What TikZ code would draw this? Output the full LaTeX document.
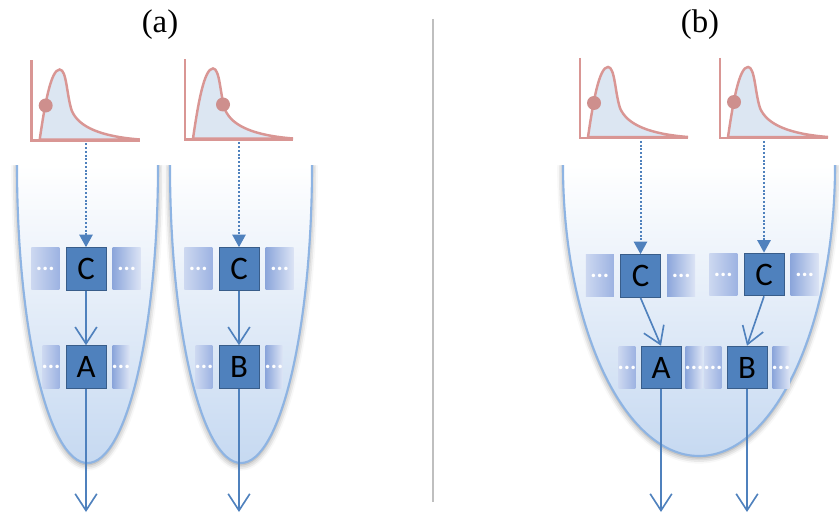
\documentclass[tikz,border=0pt]{standalone}
\usepackage{fontspec}
\setmainfont{Liberation Serif}
\newfontfamily\boxfont{Carlito}
\usetikzlibrary{positioning,arrows.meta,shadows.blur}
\definecolor{boxblue}{HTML}{4F81BD}
\definecolor{boxedge}{HTML}{385D8A}
\definecolor{bowledge}{HTML}{8EB4E3}
\definecolor{bowlbottom}{HTML}{C6D9F1}
\definecolor{curvered}{HTML}{D99694}
\definecolor{curvefill}{HTML}{DCE6F2}
\definecolor{stripdark}{HTML}{8CA6DB}
\definecolor{stripmid}{HTML}{9DB3E2}
\definecolor{striplight}{HTML}{DCE4F5}
\definecolor{divider}{HTML}{BFBFBF}
\newcommand{\ellip}{\makebox[0pt]{\boxfont\fontsize{20}{20}\bfseries\selectfont ...}}
% density plot: name, origin x, origin y, dot x, dot y
\newcommand{\density}[5]{%
  \begin{scope}[shift={(#2,#3)}]
    \filldraw[fill=curvefill,draw=curvered,line width=2.1pt]
      (8,-1) .. controls (13,-35) and (19,-71) .. (28,-71)
      .. controls (35,-71) and (35,-45) .. (40,-30)
      .. controls (47,-13) and (70,-4) .. (108,-1) -- cycle;
    \draw[curvered,line width=2.1pt] (0,-80) -- (0,0) -- (108,0);
    \fill[curvered!95!black] (#4,#5) circle (0.21cm);
    \coordinate (#1) at (0,3);
  \end{scope}}
% bowl: centre x, top y, x radius, depth
\newcommand{\bowl}[4]{%
  \path[blur shadow={shadow xshift=0pt,shadow yshift=-1.5pt,shadow blur radius=5pt,shadow opacity=45},
        top color=white,bottom color=bowlbottom]
    (#1-#3,#2) .. controls (#1-#3,#2+0.5523*#4) and (#1-0.5523*#3,#2+#4) .. (#1,#2+#4)
    .. controls (#1+0.5523*#3,#2+#4) and (#1+#3,#2+0.5523*#4) .. (#1+#3,#2) -- cycle;
  \draw[bowledge,line width=1.8pt]
    (#1-#3,#2) .. controls (#1-#3,#2+0.5523*#4) and (#1-0.5523*#3,#2+#4) .. (#1,#2+#4)
    .. controls (#1+0.5523*#3,#2+#4) and (#1+#3,#2+0.5523*#4) .. (#1+#3,#2);}

\begin{document}
\begin{tikzpicture}[
    x=0.03cm,y=-0.03cm,
    node distance=0.18cm,
    block/.style={rectangle,draw=boxedge,line width=0.8pt,fill=boxblue,
      minimum width=1.2cm,minimum height=1.28cm,inner sep=0pt,
      font=\boxfont\fontsize{28}{28}\selectfont},
    lstrip/.style={rectangle,left color=striplight!75!stripmid,right color=stripmid,
      minimum height=1.26cm,inner sep=0pt,text=white},
    rstrip/.style={rectangle,left color=stripdark,right color=striplight,
      minimum height=1.26cm,inner sep=0pt,text=white},
    wide/.style={minimum width=0.84cm},
    narrow/.style={minimum width=0.5cm},
    panel/.style={font=\fontsize{28}{28}\selectfont},
    flow/.style={draw=boxblue,line width=1.4pt,-{Straight Barb[length=5mm,width=6.5mm]}},
    hint/.style={draw=boxblue,line width=1.7pt,dash pattern=on 1.6pt off 1.6pt,
      -{Triangle[length=3.8mm,width=4mm]}}
  ]
  \useasboundingbox (0,0) rectangle (839,515);

  % bowls
  \begin{scope}
    \clip (0,166) rectangle (839,515);
    \bowl{87.5}{165}{70.5}{298}
    \bowl{241}{165}{71}{298}
    \bowl{699}{165}{136}{291}
  \end{scope}

  \node[panel] (pa) at (160,25) {(a)};
  \node[panel] (pb) at (700,25) {(b)};
  \draw[divider,line width=1.5pt] (433,19) -- (433,502);

  \density{pd1}{31.7}{140.5}{14}{-35}
  \density{pd2}{185}{139.5}{38}{-35}
  \density{pd3}{580}{138}{14}{-35}
  \density{pd4}{720}{138}{14}{-36}

  % panel (a)
  \node[block] (ca1) at (86,269) {C};
  \node[block] (aa) at (86,367) {A};
  \node[block] (ca2) at (239,269) {C};
  \node[block] (ba) at (239,367) {B};
  \node[lstrip,wide,left=of ca1] (ca1l) {\ellip};
  \node[rstrip,wide,right=of ca1] (ca1r) {\ellip};
  \node[lstrip,narrow,left=of aa] (aal) {\ellip};
  \node[rstrip,narrow,right=of aa] (aar) {\ellip};
  \node[lstrip,wide,left=of ca2] (ca2l) {\ellip};
  \node[rstrip,wide,right=of ca2] (ca2r) {\ellip};
  \node[lstrip,narrow,left=of ba] (bal) {\ellip};
  \node[rstrip,narrow,right=of ba] (bar) {\ellip};

  % panel (b)
  \node[block] (cb1) at (640.5,276) {C};
  \node[block] (cb2) at (764,274.5) {C};
  \node[block] (ab) at (661,367.5) {A};
  \node[block] (bb) at (747,367.5) {B};
  \node[lstrip,wide,left=of cb1] (cb1l) {\ellip};
  \node[rstrip,wide,right=of cb1] (cb1r) {\ellip};
  \node[lstrip,wide,left=of cb2] (cb2l) {\ellip};
  \node[rstrip,wide,right=of cb2] (cb2r) {\ellip};
  \node[lstrip,narrow,left=0.15cm of ab] (abl) {\ellip};
  \node[rstrip,narrow,right=0.12cm of ab] (abr) {\ellip};
  \node[lstrip,narrow,left=0.15cm of bb] (bbl) {\ellip};
  \node[rstrip,narrow,right=0.15cm of bb] (bbr) {\ellip};

  \coordinate (outaa) at (86,512);
  \coordinate (outba) at (239,512);
  \coordinate (outab) at (661,512);
  \coordinate (outbb) at (747,512);

  % Relations
  \draw[hint] (ca1 |- pd1) -- (ca1);
  \draw[hint] (ca2 |- pd2) -- (ca2);
  \draw[hint] (cb1 |- pd3) -- (cb1);
  \draw[hint] (cb2 |- pd4) -- (cb2);
  \draw[flow] (ca1) -- (aa);
  \draw[flow] (ca2) -- (ba);
  \draw[flow] (cb1.south) -- (ab.north);
  \draw[flow] (cb2.south) -- (bb.north);
  \draw[flow] (aa) -- (outaa);
  \draw[flow] (ba) -- (outba);
  \draw[flow] (ab) -- (outab);
  \draw[flow] (bb) -- (outbb);
\end{tikzpicture}
\end{document}
